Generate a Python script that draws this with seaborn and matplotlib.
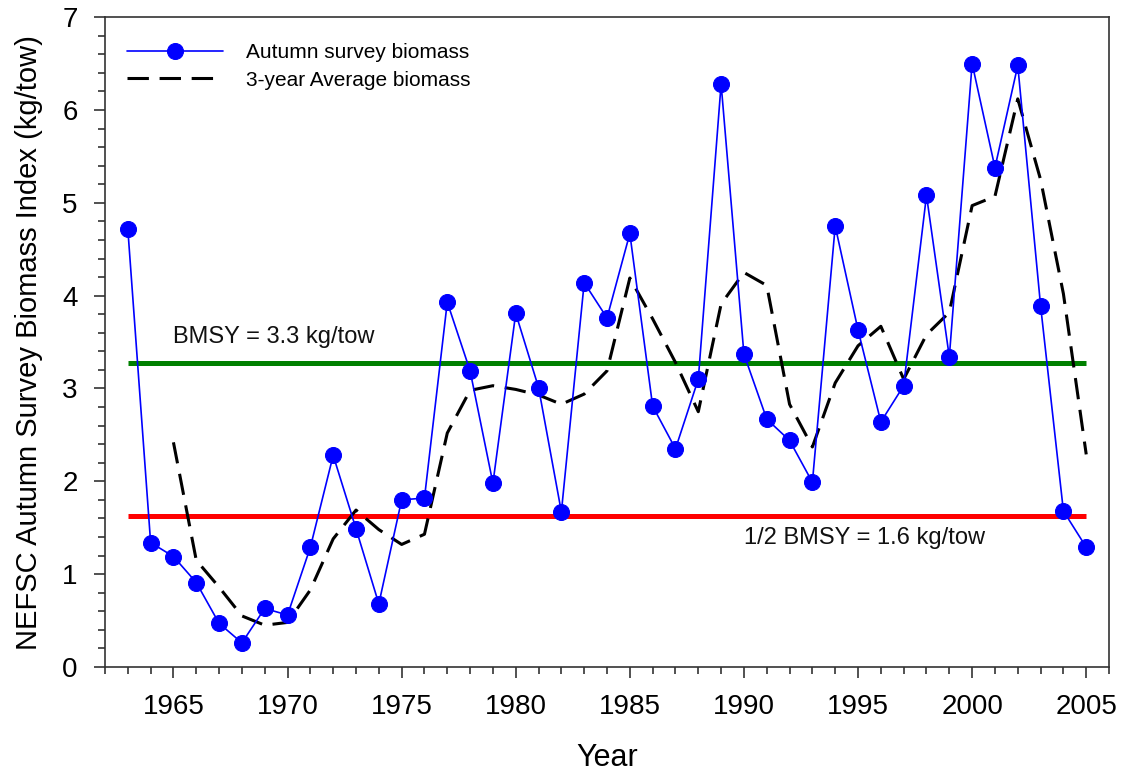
import numpy as np
import pandas as pd
import seaborn as sns
from matplotlib import pyplot as plt
from matplotlib.ticker import MultipleLocator

# values
years = list(range(1963, 2006))
survey_biomass = [4.72, 1.34, 1.19, 0.91, 0.47, 0.26, 0.63, 0.56, 1.29, 2.28,
                  1.49, 0.68, 1.80, 1.82, 3.93, 3.19, 1.98, 3.81, 3.01, 1.67,
                  4.14, 3.76, 4.67, 2.81, 2.35, 3.10, 6.28, 3.37, 2.67, 2.44,
                  1.99, 4.75, 3.63, 2.64, 3.03, 5.08, 3.34, 6.50, 5.38, 6.48,
                  3.89, 1.68, 1.29]
avg_years = list(range(1965, 2006))
avg_biomass = [2.42, 1.15, 0.86, 0.55, 0.45, 0.48, 0.83, 1.38, 1.69, 1.48,
               1.32, 1.43, 2.52, 2.98, 3.03, 2.99, 2.93, 2.83, 2.94, 3.19,
               4.19, 3.75, 3.28, 2.75, 3.91, 4.25, 4.11, 2.83, 2.37, 3.06,
               3.46, 3.67, 3.10, 3.58, 3.82, 4.97, 5.07, 6.12, 5.25, 4.02,
               2.29]
bmsy = 3.27
half_bmsy = 1.63
ref_start, ref_end = 1963, 2005

df = pd.DataFrame({'year': years, 'biomass': survey_biomass})
df_avg = pd.DataFrame({'year': avg_years, 'avg': avg_biomass})

sns.set_style('ticks')
plt.rcParams['font.family'] = ['Liberation Sans', 'DejaVu Sans']
plt.rcParams['text.color'] = 'black'
plt.rcParams['axes.labelcolor'] = 'black'

fig = plt.figure(figsize=(11.24, 7.81), dpi=100)
ax = fig.add_axes([0.0934, 0.146, 0.8933, 0.832])

ax.hlines(bmsy, ref_start, ref_end, color='#008000', linewidth=3.6, zorder=2)
ax.hlines(half_bmsy, ref_start, ref_end, color='#ff0000', linewidth=3.6, zorder=2)

sns.lineplot(data=df_avg, x='year', y='avg', color='black', linewidth=2.2,
             label='3-year Average biomass', ax=ax, zorder=3)
ax.lines[-1].set_dashes((7, 3.5))
sns.lineplot(data=df, x='year', y='biomass', color='#0000ff', linewidth=1.2,
             marker='o', markersize=11.5, markeredgecolor='#0000ff',
             label='Autumn survey biomass', ax=ax, zorder=4)

ax.text(1965, 3.55, 'BMSY = 3.3 kg/tow', fontsize=17, ha='left', va='center', color='#111111')
ax.text(1990, 1.39, '1/2 BMSY = 1.6 kg/tow', fontsize=17, ha='left', va='center', color='#111111')

ax.set_xlim(1962, 2006)
ax.set_ylim(0, 7)
ax.xaxis.set_major_locator(MultipleLocator(5))
ax.xaxis.set_minor_locator(MultipleLocator(1))
ax.yaxis.set_major_locator(MultipleLocator(1))
ax.yaxis.set_minor_locator(MultipleLocator(0.2))
ax.tick_params(which='major', length=7.7, width=1.2, pad=12, labelsize=20,
               color='#333333', labelcolor='black')
ax.tick_params(which='minor', length=4.8, width=1.2, color='#333333')
for s in ax.spines.values():
    s.set_linewidth(1.2)
    s.set_color('#333333')

ax.set_xlabel('Year', fontsize=22, labelpad=16)
ax.set_ylabel('NEFSC Autumn Survey Biomass Index (kg/tow)', fontsize=21, labelpad=14)

handles, labels = ax.get_legend_handles_labels()
order = [labels.index('Autumn survey biomass'), labels.index('3-year Average biomass')]
ax.legend([handles[i] for i in order], [labels[i] for i in order],
          loc='upper left', bbox_to_anchor=(0.022, 0.96), frameon=False,
          fontsize=15, handlelength=4.6, handletextpad=1.1, labelspacing=0.4,
          borderpad=0, borderaxespad=0)

plt.savefig('out.png', dpi=100)
